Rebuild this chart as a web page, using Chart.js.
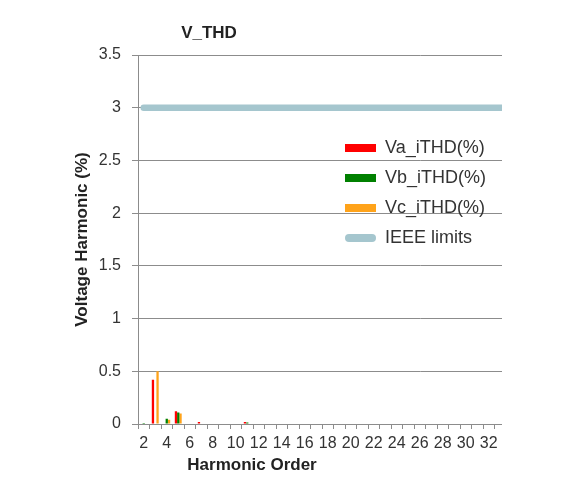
<!DOCTYPE html>
<html><head><meta charset="utf-8">
<script src="https://cdn.jsdelivr.net/npm/chart.js@4.4.1/dist/chart.umd.min.js"></script>
<style>
html,body{margin:0;padding:0;background:#fff;}
#wrap{position:absolute;left:0;top:0;width:502px;height:487px;overflow:hidden;}
canvas{display:block;}
</style></head><body>
<div id="wrap"><canvas id="c" width="712" height="487"></canvas></div>
<script>
const chartTitle = 'V_THD';
const xAxisTitle = 'Harmonic Order';
const yAxisTitle = 'Voltage Harmonic (%)';
const seriesNames = ['Va_iTHD(%)', 'Vb_iTHD(%)', 'Vc_iTHD(%)', 'IEEE limits'];

const harmonicOrders = [2,3,4,5,6,7,8,9,10,11,
  12,13,14,15,16,17,18,19,20,21,
  22,23,24,25,26,27,28,29,30,31,
  32,33,34,35,36,37,38,39,40,41,
  42,43,44,45,46,47,48,49,50];

const vaTHD = [0,0.42,0,0.12,0,0.02,0,0,0,0.02,
  0,0,0,0,0,0,0,0,0,0,
  0,0,0,0,0,0,0,0,0,0,
  0,0,0,0,0,0,0,0,0,0,
  0,0,0,0,0,0,0,0,0];
const vbTHD = [0.01,0,0.05,0.11,0,0,0,0,0,0.015,
  0,0,0,0,0,0,0,0,0,0,
  0,0,0,0,0,0,0,0,0,0,
  0,0,0,0,0,0,0,0,0,0,
  0,0,0,0,0,0,0,0,0];
const vcTHD = [0,0.50,0.04,0.10,0,0,0,0,0,0,
  0,0,0,0,0,0,0,0,0,0,
  0,0,0,0,0,0,0,0,0,0,
  0,0,0,0,0,0,0,0,0,0,
  0,0,0,0,0,0,0,0,0];
const ieeeLimit = [3,3,3,3,3,3,3,3,3,3,
  3,3,3,3,3,3,3,3,3,3,
  3,3,3,3,3,3,3,3,3,3,
  3,3,3,3,3,3,3,3,3,3,
  3,3,3,3,3,3,3,3,3];

const colRed = '#ff0000', colGreen = '#008000', colOrange = '#ffa31a', colIeee = '#a5c6ce';
const gridCol = '#8c8c8c', textCol = '#333333', titleCol = '#222222';
const FONT = '"Liberation Sans", Arial, sans-serif';

const moveLegend = {
  id: 'moveLegend',
  afterLayout(chart) {
    const lg = chart.legend;
    if (!lg) return;
    const w = lg.width, h = lg.height;
    lg.left = chart.chartArea.left + 195;
    lg.top = chart.chartArea.top + 72;
    lg.right = lg.left + w;
    lg.bottom = lg.top + h;
  }
};
const extraTexts = {
  id: 'extraTexts',
  afterDraw(chart) {
    const ctx = chart.ctx, a = chart.chartArea;
    ctx.save();
    ctx.fillStyle = titleCol;
    ctx.font = 'bold 17px ' + FONT;
    ctx.textAlign = 'center';
    ctx.textBaseline = 'middle';
    ctx.fillText(chartTitle, a.left + 71, a.top - 22);
    ctx.fillText(xAxisTitle, a.left + 114, a.bottom + 41);
    ctx.restore();
  }
};

new Chart(document.getElementById('c'), {
  data: {
    labels: harmonicOrders,
    datasets: [
      {type:'bar', label: seriesNames[0], data: vaTHD, backgroundColor: colRed, borderWidth: 0},
      {type:'bar', label: seriesNames[1], data: vbTHD, backgroundColor: colGreen, borderWidth: 0},
      {type:'bar', label: seriesNames[2], data: vcTHD, backgroundColor: colOrange, borderWidth: 0},
      {type:'line', label: seriesNames[3], data: ieeeLimit, borderColor: colIeee, backgroundColor: colIeee,
        borderWidth: 6.5, borderCapStyle: 'round', pointRadius: 0, pointHoverRadius: 0, fill: false, tension: 0}
    ]
  },
  options: {
    responsive: false,
    animation: false,
    layout: {padding: {left: 0, top: 55, right: 10.5, bottom: 0}},
    datasets: {bar: {categoryPercentage: 0.6, barPercentage: 1}},
    plugins: {
      title: {display: false},
      tooltip: {enabled: false},
      legend: {
        position: 'chartArea',
        align: 'start',
        labels: {
          boxWidth: 31, boxHeight: 8, padding: 12, color: textCol,
          font: {family: FONT, size: 18},
          generateLabels(chart) {
            const items = Chart.defaults.plugins.legend.labels.generateLabels(chart);
            items.forEach(it => {
              it.lineWidth = 0;
              if (chart.data.datasets[it.datasetIndex].type === 'line') {
                it.borderRadius = 4;
                it.fillStyle = colIeee;
              }
            });
            return items;
          }
        }
      }
    },
    scales: {
      x: {
        type: 'category',
        offset: true,
        afterFit(s) { s.height = 63; },
        grid: {drawOnChartArea: false, drawTicks: true, tickLength: 5, color: gridCol, offset: true},
        border: {color: gridCol, width: 1},
        ticks: {
          autoSkip: false, maxRotation: 0, minRotation: 0, padding: 5,
          color: textCol, font: {family: FONT, size: 16},
          callback(v) { const l = this.getLabelForValue(v); return (l % 2 === 0) ? String(l) : ''; }
        }
      },
      y: {
        min: 0, max: 3.5,
        afterFit(s) { s.width = 138; },
        grid: {color: gridCol, tickLength: 6, drawTicks: true},
        border: {color: gridCol, width: 1},
        ticks: {stepSize: 0.5, padding: 11, color: textCol, font: {family: FONT, size: 16},
          callback(v) { return String(v); }},
        title: {display: true, text: yAxisTitle, color: titleCol,
          font: {family: FONT, size: 17, weight: 'bold'}, padding: {top: 72, bottom: 0}}
      }
    }
  },
  plugins: [moveLegend, extraTexts]
});
</script>
</body></html>
